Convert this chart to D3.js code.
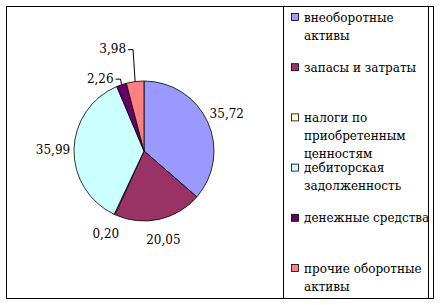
<!DOCTYPE html>
<html>
<head>
<meta charset="utf-8">
<script src="https://cdn.jsdelivr.net/npm/d3@7"></script>
<style>
	body { margin: 0; background: #fff; }
	svg text { font-family: "DejaVu Serif", "Liberation Serif", serif; }
</style>
</head>
<body>
<svg id="chart" width="442" height="305"></svg>
<script>
const categories = [
	'внеоборотные активы',
	'запасы и затраты',
	'налоги по приобретенным ценностям',
	'дебиторская задолженность',
	'денежные средства',
	'прочие оборотные активы'
];
const values = [35.72, 20.05, 0.20, 35.99, 2.26, 3.98];
const valueLabels = ['35,72', '20,05', '0,20', '35,99', '2,26', '3,98'];
const legendLines = [
	['внеоборотные', 'активы'],
	['запасы и затраты'],
	['налоги по', 'приобретенным', 'ценностям'],
	['дебиторская', 'задолженность'],
	['денежные средства'],
	['прочие оборотные', 'активы']
];
const colors = ['#9999FF', '#993366', '#FFFFCC', '#CCFFFF', '#660066', '#FF8080'];

const width = 442;
const height = 305;
const cx = 144, cy = 151, r = 70;

const svg = d3.select('#chart');

// frame
svg.append('rect')
	.attr('x', 6.5).attr('y', 6.5)
	.attr('width', 427).attr('height', 292)
	.attr('fill', '#fff').attr('stroke', '#000');

// legend box
svg.append('rect')
	.attr('x', 283.5).attr('y', 6.5)
	.attr('width', 145).attr('height', 292)
	.attr('fill', 'none').attr('stroke', '#000');

let data = categories.map((c, i) => ({name: c, value: values[i], label: valueLabels[i], color: colors[i], lines: legendLines[i]}));

let pie = d3.pie()
	.sort(null)
	.value(d => d.value);

let arc = d3.arc().innerRadius(0).outerRadius(r);

let arcs = pie(data);

const g = svg.append('g').attr('transform', `translate(${cx},${cy})`);

g.selectAll('path')
	.data(arcs)
	.enter()
	.append('path')
	.attr('d', arc)
	.attr('fill', d => d.data.color)
	.attr('stroke', '#000')
	.attr('stroke-width', 0.8);

// labels: small slices get pulled out with a leader line
const leader = {
	'2,26': {angle: -31, radius: 85},
	'3,98': {angle: -17, radius: 107}
};

const polar = (deg, rad) => {
	let a = deg * Math.PI / 180;
	return [Math.sin(a) * rad, -Math.cos(a) * rad];
};

arcs.forEach(d => {
	let mid = (d.startAngle + d.endAngle) / 2 * 180 / Math.PI;
	let opt = leader[d.data.label];
	let [x, y] = opt ? polar(opt.angle, opt.radius) : polar(mid, 91);

	let t = g.append('text')
		.attr('x', x)
		.attr('y', y)
		.attr('text-anchor', 'middle')
		.attr('dy', '0.38em')
		.attr('fill', '#000')
		.style('font-size', '12px')
		.text(d.data.label);

	if (opt) {
		let w = t.node().getComputedTextLength();
		let [ax, ay] = polar(mid, r);
		let x0 = x + w / 2 + 2;
		let x1 = Math.min(ax - 1, x0 + 5);
		g.append('path')
			.attr('d', `M${x0},${y + 1}H${Math.max(x1, x0 + 4)}L${ax},${ay}`)
			.attr('fill', 'none')
			.attr('stroke', '#000')
			.attr('stroke-width', 1);
	}
});

// legend
let ly = d3.scalePoint()
	.domain(categories)
	.range([17, 268]);

let item = svg.selectAll('g.legend')
	.data(data)
	.enter()
	.append('g')
	.attr('class', 'legend')
	.attr('transform', d => `translate(291,${ly(d.name)})`);

item.append('rect')
	.attr('x', 0.5).attr('y', -3.5)
	.attr('width', 7).attr('height', 7)
	.attr('fill', d => d.color)
	.attr('stroke', '#000')
	.attr('stroke-width', 0.8);

item.append('text')
	.attr('fill', '#000')
	.style('font-size', '12px')
	.selectAll('tspan')
	.data(d => d.lines)
	.enter()
	.append('tspan')
	.attr('x', 13)
	.attr('y', (d, i) => i * 18 + 4.5)
	.text(d => d);
</script>
</body>
</html>
